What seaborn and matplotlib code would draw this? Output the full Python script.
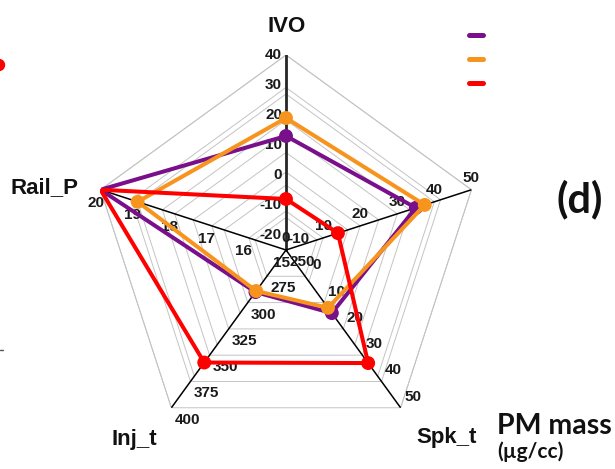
import numpy as np
import pandas as pd
import matplotlib
matplotlib.use("Agg")
import matplotlib.pyplot as plt
import seaborn as sns
from matplotlib.lines import Line2D
from matplotlib.patches import Circle

# ---------------- data ----------------
axis_names = ["IVO", "", "Spk_t", "Inj_t", "Rail_P"]
axis_lo = [-25, 0, -10, 250, 15]
axis_hi = [40, 50, 50, 400, 20]
ivo_ticks = [-20, -10, 0, 10, 20, 30, 40]
ur_ticks = [0, 10, 20, 30, 40, 50]
spk_ticks = [-10, 0, 10, 20, 30, 40, 50]
inj_ticks = [250, 275, 300, 325, 350, 375, 400]
rail_ticks = [15, 16, 17, 18, 19, 20]
axis_ticks = [ivo_ticks, ur_ticks, spk_ticks, inj_ticks, rail_ticks]

series_names = ["case_1", "case_2", "case_3"]
purple_vals = [13, 35, 14, 290, 20]
orange_vals = [19, 37.4, 12, 289, 19]
red_vals = [-8, 14, 33, 357, 20]
series_vals = [purple_vals, orange_vals, red_vals]
series_colors = ["#7a0f8c", "#f7941d", "#ff0000"]

# ---------------- style ----------------
sns.set_style("white")
plt.rcParams["font.family"] = ["Liberation Sans", "DejaVu Sans"]

W, H = 615, 469
fig = plt.figure(figsize=(W / 100, H / 100), dpi=100)
cx, cy, R = 286, 250, 195
ax = fig.add_axes([(cx - R) / W, (H - cy - R) / H, 2 * R / W, 2 * R / H],
                  projection="polar")
ax.set_theta_zero_location("N")
ax.set_theta_direction(-1)
ax.set_ylim(0, 1)
ax.axis("off")

n = len(axis_names)
thetas = np.deg2rad(np.arange(n) * 360 / n)


def norm(i, v):
    return (v - axis_lo[i]) / (axis_hi[i] - axis_lo[i])


# grid: 6-level everywhere, 5-level in all sectors but Spk_t-Inj_t
grid_c = "#c4c4c4"
for k in range(1, 7):
    f = k / 6
    ax.plot(np.append(thetas, thetas[0]), [f] * (n + 1), color=grid_c, lw=0.7, zorder=1)
for k in range(1, 6):
    f = k / 5
    for s in range(n):
        if s == 2:
            continue
        t0, t1 = thetas[s], thetas[(s + 1) % n]
        ax.plot([t0, t1], [f, f], color=grid_c, lw=0.7, zorder=1)

# axis spokes
for i, t in enumerate(thetas):
    if i == 0:
        ax.plot([t, t], [0, 1], color="#262626", lw=2.0, zorder=2)
    else:
        ax.plot([t, t], [0, 1], color="black", lw=1.1, zorder=2)

# tick labels
offsets = [(-4, 0, "right"), (0, 12, "center"), (12, 11, "center"),
           (16, -12, "center"), (-5, -13, "center")]
for i, ticks in enumerate(axis_ticks):
    dx, dy, ha = offsets[i]
    for v in ticks:
        ax.annotate(str(v), xy=(thetas[i], norm(i, v)), xytext=(dx, dy),
                    textcoords="offset pixels", ha=ha, va="center",
                    fontsize=11, fontweight="bold", color="#1a1a1a", zorder=3)

# series
rows = []
for name, vals in zip(series_names, series_vals):
    for i, v in enumerate(vals + [vals[0]]):
        j = i % n
        rows.append({"series": name, "theta": thetas[j] if i < n else 2 * np.pi,
                     "r": norm(j, v), "idx": i})
df = pd.DataFrame(rows)

for z, (name, c) in enumerate(zip(series_names, series_colors)):
    sub = df[df["series"] == name]
    sns.lineplot(data=sub, x="theta", y="r", sort=False, estimator=None,
                 color=c, linewidth=2.9, ax=ax, zorder=5 + 2 * z, legend=False)
    pts = sub[(sub["idx"] < n) & (sub["r"] < 0.999)]
    sns.scatterplot(data=pts, x="theta", y="r", color=c, s=100,
                    edgecolor="none", ax=ax, zorder=6 + 2 * z, legend=False)
ax.set_xlabel("")
ax.set_ylabel("")
ax.set_ylim(0, 1)


def fx(x):
    return x / W


def fy(y):
    return 1 - y / H


lab_kw = dict(fontsize=16, fontweight="bold", color="#111111")
fig.text(fx(287), fy(32), "IVO", ha="center", va="baseline", **lab_kw)
fig.text(fx(78), fy(193), "Rail_P", ha="right", va="baseline", **lab_kw)
fig.text(fx(134), fy(445), "Inj_t", ha="center", va="baseline", **lab_kw)
fig.text(fx(447), fy(443), "Spk_t", ha="center", va="baseline", **lab_kw)

fig.text(fx(497), fy(434), "PM mass", ha="left", va="baseline",
         fontsize=20.5, fontweight="bold", family=["Lato", "DejaVu Sans"], color="#111111")
fig.text(fx(497), fy(458), "(µg/cc)", ha="left", va="baseline",
         fontsize=15, fontweight="bold", family=["Lato", "DejaVu Sans"], color="#111111")
fig.text(fx(580), fy(199), "(d)", ha="center", va="center",
         fontsize=30, fontweight="bold", family=["Lato", "DejaVu Sans"], color="#111111")

# clipped legend handles (labels cut off in the source)
for y, c in zip([35, 59, 83], series_colors):
    fig.add_artist(Line2D([fx(469), fx(483)], [fy(y), fy(y)], color=c, lw=3.6,
                          solid_capstyle="round"))

# fragments of neighbouring panel at left edge
fig.add_artist(Circle((-1 / 100, (H - 65) / 100), 0.055, color="#ff0000",
                      transform=fig.dpi_scale_trans))
fig.add_artist(Line2D([0, fx(3)], [fy(350), fy(350)], color="#555555", lw=1))

fig.savefig("out.png", dpi=100)
